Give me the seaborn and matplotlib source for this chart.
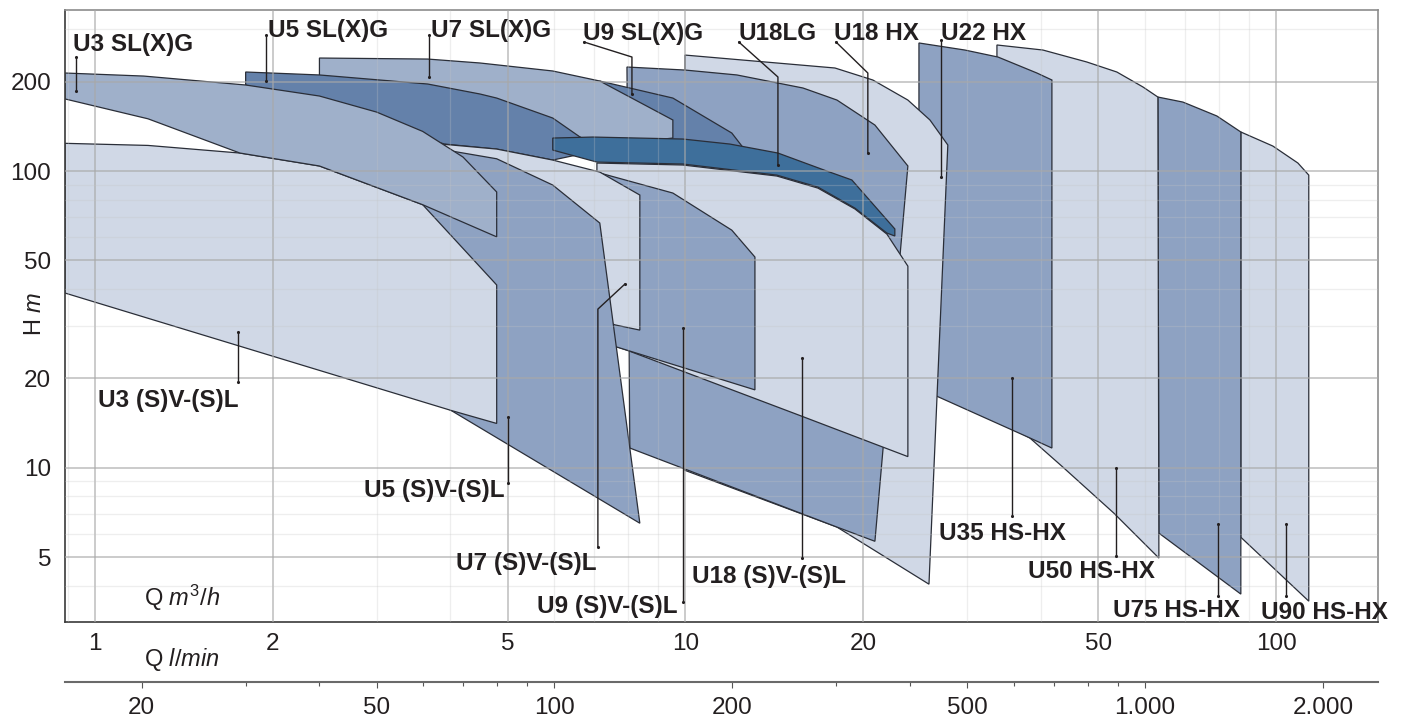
import numpy as np
import matplotlib
matplotlib.use("Agg")
import matplotlib.pyplot as plt
import seaborn as sns
from matplotlib.ticker import FixedLocator, LogLocator, NullFormatter

sns.set_theme(style="white")
plt.rcParams["font.family"] = ["Liberation Sans", "DejaVu Sans"]
plt.rcParams["mathtext.fontset"] = "custom"
plt.rcParams["mathtext.rm"] = "Liberation Sans"
plt.rcParams["mathtext.it"] = "Liberation Sans:italic"

LIGHT = "#d0d8e6"
MID = "#8ea2c2"
SLG = "#9fb0ca"
DARK = "#6481aa"
BAR = "#3e6f9b"
INK = "#231f20"

# working ranges, outline points: Q in m3/h, H in m
u90_q = [87.17, 98.76, 108.9, 113.6, 113.6, 87.17]
u90_h = [135.4, 121.4, 106.4, 96.9, 3.55, 5.83]

u75_q = [63.08, 69.55, 79.4, 87.17, 87.17, 63.33]
u75_h = [177.6, 170.8, 153.3, 135.4, 3.75, 6.02]

u50_q = [33.68, 40.29, 47.82, 53.75, 59.52, 63.08, 63.33, 53.13, 43.55, 38.29, 33.68]
u50_h = [266.0, 255.8, 233.1, 215.7, 192.0, 177.6, 4.96, 7.03, 10.05, 12.6, 14.5]

u35_q = [24.85, 29.72, 33.81, 39.36, 41.73, 41.73, 38.29, 26.85, 24.85]
u35_h = [270.2, 255.8, 242.3, 214.0, 202.7, 11.65, 12.6, 17.3, 18.55]

u22hx_q = [9.98, 17.91, 20.76, 23.8, 25.94, 27.81, 25.84, 18.05, 9.98]
u22hx_h = [246.0, 222.5, 202.7, 173.5, 148.6, 122.4, 4.05, 6.31, 9.8]

u18hx_q = [7.96, 9.98, 12.22, 15.81, 18.05, 20.93, 23.8, 20.93, 18.05, 8.05]
u18hx_h = [224.2, 219.0, 210.8, 190.5, 173.5, 142.9, 104.0, 5.65, 6.31, 11.65]

u9slg_q = [7.16, 9.52, 11.98, 12.46, 12.46, 7.16]
u9slg_h = [201.1, 176.2, 134.3, 121.4, 115.9, 121.4]

u7slg_q = [2.40, 3.66, 4.49, 5.96, 7.16, 9.52, 9.52, 7.16, 5.96, 4.49, 2.40]
u7slg_h = [240.4, 238.5, 231.3, 217.4, 201.1, 148.6, 129.2, 121.4, 142.9, 173.5, 209.1]

u5slg_q = [1.80, 2.40, 3.66, 4.49, 4.79, 5.96, 6.63, 7.16, 5.96, 4.79, 3.91, 3.04, 2.40, 1.80]
u5slg_h = [215.7, 210.8, 196.5, 181.8, 176.2, 150.9, 130.2, 117.7, 108.9, 118.6, 123.3, 142.9, 160.6, 195.0]

u18sv_q = [7.08, 9.90, 14.28, 16.76, 19.36, 21.93, 23.8, 23.8, 15.62, 7.96, 7.08]
u18sv_h = [106.4, 104.8, 96.2, 87.6, 74.5, 61.3, 47.8, 10.9, 15.0, 24.9, 26.9]

u9sv_q = [7.16, 9.52, 11.98, 13.11, 13.11, 7.66, 7.16]
u9sv_h = [98.5, 84.3, 63.2, 51.3, 18.3, 25.5, 26.5]

u7sv_q = [3.91, 4.79, 5.96, 7.16, 8.37, 8.37, 7.60, 5.67, 3.91]
u7sv_h = [123.0, 118.6, 108.9, 99.2, 83.0, 29.1, 30.3, 36.7, 42.9]

u5sv_q = [3.59, 4.10, 4.79, 5.96, 7.16, 8.37, 4.01, 3.59]
u5sv_h = [122.0, 116.0, 110.0, 89.7, 66.8, 6.5, 15.6, 17.6]

u3sv_q = [0.89, 1.23, 1.76, 2.40, 3.59, 4.79, 4.79, 4.01, 0.89]
u3sv_h = [124.0, 122.0, 115.0, 104.0, 77.0, 41.3, 14.1, 15.6, 38.8]

u3slg_q = [0.89, 1.21, 1.80, 2.40, 3.00, 3.59, 4.20, 4.79, 4.79, 3.59, 2.40, 1.76, 1.23, 0.89]
u3slg_h = [214.0, 209.0, 195.0, 179.0, 158.0, 136.0, 111.5, 85.0, 60.0, 77.0, 104.0, 115.0, 150.0, 175.0]

u18lg_q = [5.96, 6.97, 9.90, 11.89, 14.34, 17.35, 19.13, 22.62, 22.62, 21.93, 19.36, 16.76, 14.28, 9.90, 7.08, 5.96]
u18lg_h = [129.2, 130.2, 128.2, 123.3, 115.0, 100.0, 93.3, 63.8, 60.4, 61.8, 75.0, 88.3, 96.9, 105.6, 107.2, 117.7]

# back to front
regions = [
    (u90_q, u90_h, LIGHT),
    (u75_q, u75_h, MID),
    (u50_q, u50_h, LIGHT),
    (u35_q, u35_h, MID),
    (u22hx_q, u22hx_h, LIGHT),
    (u18hx_q, u18hx_h, MID),
    (u9slg_q, u9slg_h, DARK),
    (u7slg_q, u7slg_h, SLG),
    (u5slg_q, u5slg_h, DARK),
    (u18sv_q, u18sv_h, LIGHT),
    (u9sv_q, u9sv_h, MID),
    (u7sv_q, u7sv_h, LIGHT),
    (u5sv_q, u5sv_h, MID),
    (u3sv_q, u3sv_h, LIGHT),
    (u3slg_q, u3slg_h, SLG),
    (u18lg_q, u18lg_h, BAR),
]

# label text, text anchor (Q, H), leader line points
labels = [
    ("U3 SL(X)G", 0.918, 253.8, [0.929, 0.929], [242.3, 186.1]),
    ("U5 SL(X)G", 1.963, 283.0, [1.948, 1.948], [287.4, 201.1]),
    ("U7 SL(X)G", 3.707, 283.0, [3.678, 3.678], [287.4, 207.5]),
    ("U9 SL(X)G", 6.705, 276.6, [6.73, 8.116, 8.116], [272.3, 242.3, 181.8]),
    ("U18LG", 12.31, 276.6, [12.31, 14.34, 14.34], [272.3, 207.5, 104.8]),
    ("U18 HX", 17.84, 276.6, [17.98, 20.36, 20.36], [272.3, 214.0, 115.0]),
    ("U22 HX", 27.06, 276.6, [27.06, 27.06], [276.6, 95.4]),
    ("U3 (S)V-(S)L", 1.012, 16.0, [1.746, 1.746], [28.7, 19.4]),
    ("U5 (S)V-(S)L", 2.854, 7.96, [5.004, 5.004], [14.8, 8.87]),
    ("U7 (S)V-(S)L", 4.086, 4.52, [7.897, 7.107, 7.107], [41.6, 34.25, 5.40]),
    ("U9 (S)V-(S)L", 5.603, 3.235, [9.899, 9.899], [29.6, 3.52]),
    ("U18 (S)V-(S)L", 10.25, 4.08, [15.74, 15.74], [23.4, 4.96]),
    ("U35 HS-HX", 26.85, 5.70, [35.71, 35.71], [20.05, 6.87]),
    ("U50 HS-HX", 37.99, 4.245, [53.55, 53.55], [9.97, 5.04]),
    ("U75 HS-HX", 52.92, 3.135, [79.71, 79.71], [6.45, 3.69]),
    ("U90 HS-HX", 94.25, 3.087, [103.9, 103.9], [6.45, 3.69]),
]

q_ticks = [1, 2, 5, 10, 20, 50, 100]
h_ticks = [5, 10, 20, 50, 100, 200]
lmin_ticks = [20, 50, 100, 200, 500, 1000, 2000]
lmin_labels = ["20", "50", "100", "200", "500", "1.000", "2.000"]
lmin_minor = [30, 40, 60, 70, 80, 90, 300, 400, 600, 700, 800, 900]

fig = plt.figure(figsize=(14.12, 7.17), dpi=100)
ax = fig.add_axes([65 / 1412, 95 / 717, 1313 / 1412, 612 / 717])

for q, h, col in regions:
    ax.fill(q, h, facecolor=col, edgecolor="#2a2e38", linewidth=0.9, zorder=1)

ax.set_xscale("log")
ax.set_yscale("log")
ax.set_xlim(0.89, 148.8)
ax.set_ylim(3.02, 349)

for text, tq, th, pq, ph in labels:
    sns.lineplot(x=pq, y=ph, sort=False, estimator=None, color=INK,
                 linewidth=1.0, ax=ax, zorder=4)
    ax.scatter([pq[0], pq[-1]], [ph[0], ph[-1]], s=5, color=INK,
               linewidths=0, zorder=5)
    ax.text(tq, th, text, fontsize=17.5, fontweight="bold", color=INK,
            ha="left", va="baseline", zorder=6, clip_on=False)

ax.set_xticks(q_ticks, labels=[str(v) for v in q_ticks])
ax.set_yticks(h_ticks, labels=[str(v) for v in h_ticks])
ax.xaxis.set_minor_locator(LogLocator(base=10, subs=np.arange(2, 10), numticks=20))
ax.yaxis.set_minor_locator(LogLocator(base=10, subs=np.arange(2, 10), numticks=20))
ax.xaxis.set_minor_formatter(NullFormatter())
ax.yaxis.set_minor_formatter(NullFormatter())

ax.set_axisbelow(False)
ax.grid(True, which="major", color="#a8a8a8", alpha=0.6, linewidth=1.4)
ax.grid(True, which="minor", color="#c4c4c4", alpha=0.28, linewidth=0.9)

ax.tick_params(axis="x", which="major", length=0, labelsize=17.5,
               labelcolor=INK, pad=8)
ax.tick_params(axis="y", which="major", length=0, labelsize=17.5,
               labelcolor=INK, pad=10)
ax.tick_params(axis="both", which="minor", length=3, width=0.8,
               color="#555555", direction="out")

for s in ["top", "right"]:
    ax.spines[s].set_color("#8c8c8c")
    ax.spines[s].set_linewidth(1.2)
for s in ["left", "bottom"]:
    ax.spines[s].set_color("#3a3a3a")
    ax.spines[s].set_linewidth(1.2)

secax = ax.secondary_xaxis(-60 / 612, functions=(lambda q: q * 1000 / 60,
                                                 lambda l: l * 60 / 1000))
secax.set_xticks(lmin_ticks, labels=lmin_labels)
secax.xaxis.set_minor_locator(FixedLocator(lmin_minor))
secax.xaxis.set_minor_formatter(NullFormatter())
secax.tick_params(which="major", length=4, width=0.8, color="#555555",
                  labelsize=17.5, labelcolor=INK, pad=7)
secax.tick_params(which="minor", length=3, width=0.8, color="#555555")
secax.spines["bottom"].set_color("#6a6a6a")
secax.spines["bottom"].set_linewidth(1.5)

fig.text(144 / 1412, 1 - 606 / 717, r"Q $\mathit{m^3/h}$", fontsize=17,
         color=INK, ha="left", va="baseline")
fig.text(144 / 1412, 1 - 666 / 717, r"Q $\mathit{l/min}$", fontsize=17,
         color=INK, ha="left", va="baseline")
fig.text(35 / 1412, 1 - 314 / 717, r"H $\mathit{m}$", fontsize=17,
         color=INK, rotation=90, ha="center", va="center")

fig.savefig("out.png", dpi=100)
